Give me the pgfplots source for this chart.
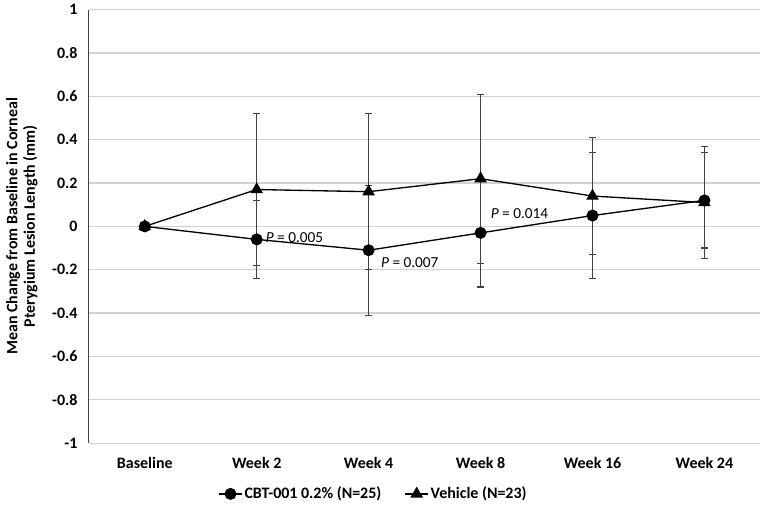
\documentclass[border=0pt]{standalone}
\usepackage{pgfplots}
\pgfplotsset{compat=1.18}
\usepackage{fontspec}
\setmainfont{Carlito}
\begin{document}
\begin{tikzpicture}[font=\fontsize{12}{14}\selectfont]
\begin{axis}[
  scale only axis,
  width=505pt, height=326pt,
  xmin=-0.5, xmax=5.5,
  ymin=-1, ymax=1,
  xtick={0,1,2,3,4,5},
  xticklabels={Baseline,Week 2,Week 4,Week 8,Week 16,Week 24},
  xticklabel style={font=\fontsize{12}{14}\selectfont\bfseries, yshift=-7pt},
  ytick={-1,-0.8,-0.6,-0.4,-0.2,0,0.2,0.4,0.6,0.8,1},
  yticklabels={-1,-0.8,-0.6,-0.4,-0.2,0,0.2,0.4,0.6,0.8,1},
  yticklabel style={font=\fontsize{12}{14}\selectfont\bfseries, xshift=-5pt},
  ymajorgrids,
  grid style={black!18, line width=0.9pt},
  axis line style={draw=none},
  separate axis lines,
  axis y line*=left,
  y axis line style={draw=black!75, line width=1pt},
  major tick length=0pt,
  ylabel={\bfseries\begin{tabular}{c}Mean Change from Baseline in Corneal\\[-1pt]Pterygium Lesion Length (mm)\end{tabular}},
  ylabel style={yshift=2pt},
  legend style={at={(0.424,-0.117)}, anchor=center, draw=none, legend columns=2,
    font=\fontsize{12}{14}\selectfont\bfseries, column sep=0pt,
    /tikz/every even column/.append style={column sep=16pt},
    nodes={inner xsep=1.5pt}},
  legend image code/.code={\draw[mark repeat=2,mark phase=2] plot coordinates {(0cm,0cm)(0.3cm,0cm)(0.6cm,0cm)};},
  clip=false,
]
\addplot[black, line width=1pt, mark=*, mark size=4pt,
  error bars/.cd, y dir=both, y explicit,
  error bar style={black!75, line width=0.9pt},
  error mark options={rotate=90, mark size=2.6pt, black!75, line width=0.9pt}]
  coordinates {
  (0,0) +- (0,0)
  (1,-0.06) +- (0,0.18)
  (2,-0.11) +- (0,0.30)
  (3,-0.03) +- (0,0.25)
  (4,0.05) +- (0,0.29)
  (5,0.12) +- (0,0.22)
};
\addlegendentry{CBT-001 0.2\% (N=25)}
\addplot[black, line width=1pt, mark=triangle*, mark size=4.5pt,
  error bars/.cd, y dir=both, y explicit,
  error bar style={black!75, line width=0.9pt},
  error mark options={rotate=90, mark size=2.6pt, black!75, line width=0.9pt}]
  coordinates {
  (0,0) +- (0,0)
  (1,0.17) +- (0,0.35)
  (2,0.16) +- (0,0.36)
  (3,0.22) +- (0,0.39)
  (4,0.14) +- (0,0.27)
  (5,0.11) +- (0,0.26)
};
\addlegendentry{Vehicle (N=23)}
\node[anchor=west, font=\fontsize{11.5}{13}\selectfont] at (axis cs:1.04,-0.05) {\textit{P} = 0.005};
\node[anchor=west, font=\fontsize{11.5}{13}\selectfont] at (axis cs:2.07,-0.165) {\textit{P} = 0.007};
\node[anchor=west, font=\fontsize{11.5}{13}\selectfont] at (axis cs:3.05,0.06) {\textit{P} = 0.014};
\end{axis}
\end{tikzpicture}
\end{document}
